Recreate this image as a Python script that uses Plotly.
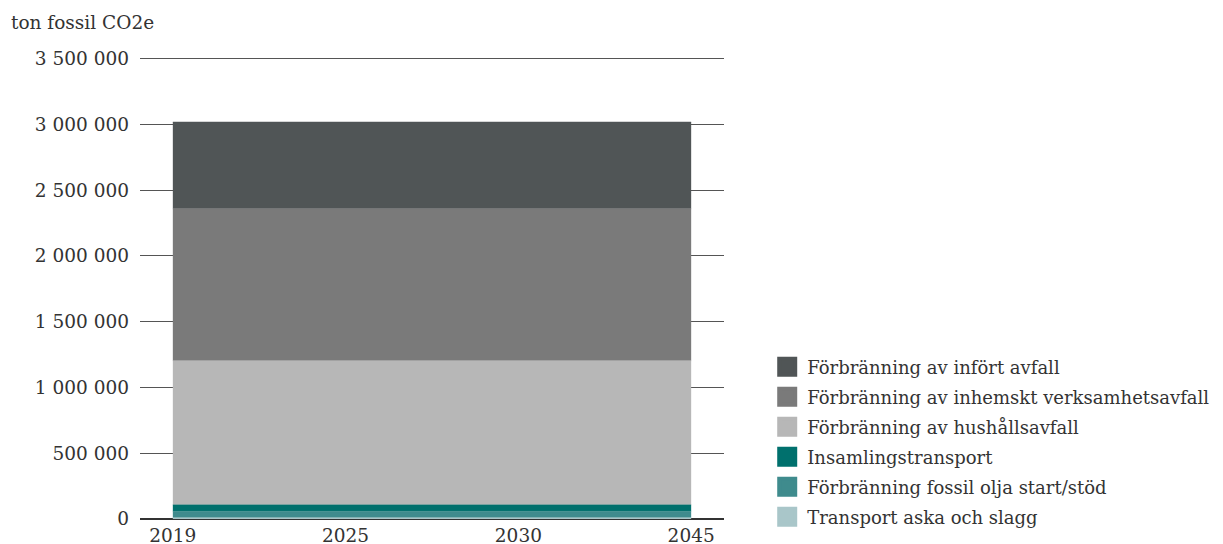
import plotly.graph_objects as go

# x-kategorier (år)
years = ["2019", "2025", "2030", "2045"]

# serier, nerifrån och upp i stapeln (ton fossil CO2e)
transport_aska = [10000, 10000, 10000, 10000]
fossil_olja = [48000, 48000, 48000, 48000]
insamlingstransport = [50000, 50000, 50000, 50000]
hushallsavfall = [1095000, 1095000, 1095000, 1095000]
inhemskt_avfall = [1155000, 1155000, 1155000, 1155000]
infort_avfall = [660000, 660000, 660000, 660000]

series_names = [
    "Transport aska och slagg",
    "Förbränning fossil olja start/stöd",
    "Insamlingstransport",
    "Förbränning av hushållsavfall",
    "Förbränning av inhemskt verksamhetsavfall",
    "Förbränning av infört avfall",
]
series_values = [transport_aska, fossil_olja, insamlingstransport,
                 hushallsavfall, inhemskt_avfall, infort_avfall]

# färger per serie
COLORS = ["#a9c6c9", "#3f8b8d", "#00706d", "#b7b7b7", "#7a7a7a", "#505556"]

FONT = "DejaVu Serif"
TEXT = "#333333"
FS = 18.5

fig = go.Figure()

for i, (name, vals) in enumerate(zip(series_names, series_values)):
    fig.add_trace(go.Scatter(
        x=years, y=vals, name=name,
        stackgroup="one", mode="lines",
        line=dict(width=0.5, color=COLORS[i]),
        fillcolor=COLORS[i],
        showlegend=False, hoverinfo="skip",
        legendgroup=name,
    ))

# fyrkantiga legendsymboler, översta serien först
for i in reversed(range(len(series_names))):
    fig.add_trace(go.Scatter(
        x=[None], y=[None], name=series_names[i], mode="markers",
        marker=dict(symbol="square", size=16, color=COLORS[i],
                    line=dict(width=4, color=COLORS[i])),
        showlegend=True, legendgroup=series_names[i],
    ))

# sidan har 8px marginal i body, därför 1215x536
fig.update_layout(
    width=1215, height=536,
    margin=dict(l=132, r=499, t=48, b=25, autoexpand=False),
    plot_bgcolor="white", paper_bgcolor="white",
    font=dict(family=FONT, size=FS, color=TEXT),
    separators=", ",
    showlegend=True,
    legend=dict(
        x=1.074, y=0.368, xanchor="left", yanchor="top",
        traceorder="grouped", tracegroupgap=3.6,
        font=dict(size=18, color=TEXT),
        itemwidth=30, itemsizing="trace", bgcolor="rgba(0,0,0,0)",
    ),
    annotations=[dict(
        text="ton fossil CO2e", xref="paper", yref="paper",
        x=-0.2243, y=1.0734, xanchor="left", yanchor="middle",
        showarrow=False, font=dict(size=FS, color=TEXT),
    )],
)

fig.update_xaxes(
    type="category", range=[-0.19, 3.19], automargin=False,
    showgrid=False, showline=False, zeroline=False,
    ticks="", ticklabelstandoff=3,
    tickfont=dict(size=FS, color=TEXT),
)
fig.update_yaxes(
    range=[0, 3520000], dtick=500000, tickformat=",d", automargin=False,
    showgrid=True, gridcolor="#555555", gridwidth=1,
    zeroline=True, zerolinecolor="#333333", zerolinewidth=1.5,
    showline=False, ticks="", ticklabelstandoff=10,
    tickfont=dict(size=FS, color=TEXT),
)

fig.write_html("out.html")
